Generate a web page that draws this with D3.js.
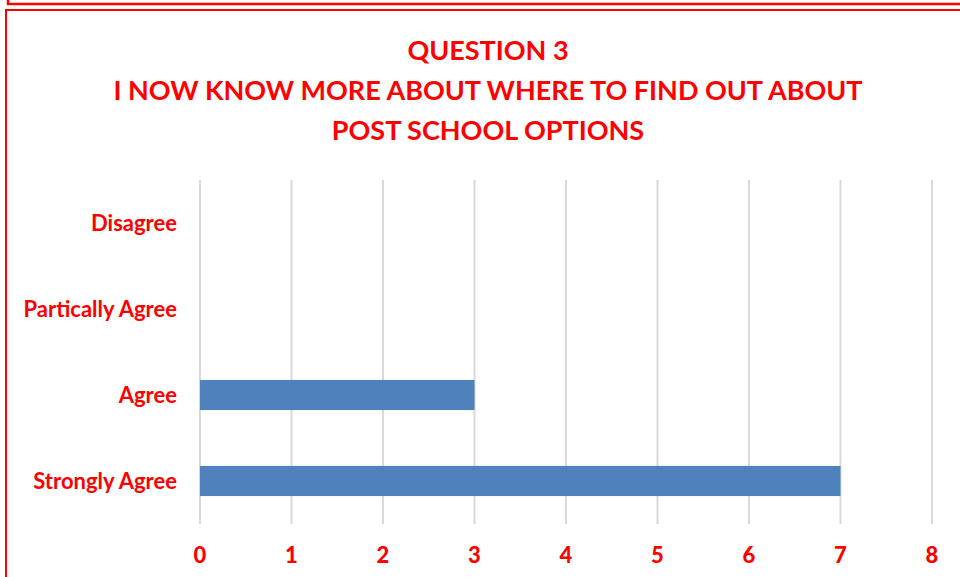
<html>
<head>
<meta charset="utf-8">
<script src="https://d3js.org/d3.v7.min.js"></script>
<style>
  body { margin: 0; background: #fff; }
  svg { display: block; }
  text { font-family: Lato, "Open Sans", sans-serif; font-weight: bold; fill: #ff0000; }
</style>
</head>
<body>
<svg id="chart" width="960" height="577"></svg>
<script>
// data
var categories = ["Disagree", "Partically Agree", "Agree", "Strongly Agree"];
var values = [0, 0, 3, 7];
var ticks = [0, 1, 2, 3, 4, 5, 6, 7, 8];
var titleLines = ["QUESTION 3", "I NOW KNOW MORE ABOUT WHERE TO FIND OUT ABOUT", "POST SCHOOL OPTIONS"];

var svg = d3.select("#chart");

// frames (piece of the slide above, and the chart box)
svg.append("rect")
  .attr("x", 8).attr("y", -20).attr("width", 1000).attr("height", 24)
  .attr("fill", "none").style("stroke", "#ff0000").style("stroke-width", 2.5);
svg.append("rect")
  .attr("x", 6).attr("y", 10).attr("width", 1000).attr("height", 600)
  .attr("fill", "none").style("stroke", "#ff0000").style("stroke-width", 2);

// title
svg.selectAll(".title").data(titleLines).enter().append("text")
  .attr("class", "title")
  .attr("x", 488)
  .attr("y", function(d, i) { return 60 + i * 40; })
  .style("text-anchor", "middle")
  .style("font-size", "27px")
  .text(function(d) { return d; });

var plotLeft = 200, plotRight = 932, plotTop = 180, plotBottom = 524;

var x = d3.scaleLinear().domain([0, 8]).range([plotLeft, plotRight]);
var y = d3.scaleBand().domain(categories).range([plotTop, plotBottom]).paddingInner(0.65).paddingOuter(0.325);

// vertical grid lines
svg.append("g").selectAll("line").data(ticks).enter().append("line")
  .attr("x1", function(d) { return x(d); })
  .attr("x2", function(d) { return x(d); })
  .attr("y1", plotTop)
  .attr("y2", plotBottom)
  .style("stroke", "#d9d9d9")
  .style("stroke-width", 2);

// bars
svg.append("g").selectAll("rect").data(values).enter().append("rect")
  .attr("x", x(0))
  .attr("y", function(d, i) { return y(categories[i]); })
  .attr("width", function(d) { return x(d) - x(0); })
  .attr("height", y.bandwidth())
  .attr("fill", "#4f81bd");

// x tick labels
svg.append("g").selectAll("text").data(ticks).enter().append("text")
  .attr("x", function(d) { return x(d); })
  .attr("y", 563)
  .style("text-anchor", "middle")
  .style("font-size", "22px")
  .style("font-weight", 900)
  .text(function(d) { return d; });

// category labels
svg.append("g").selectAll("text").data(categories).enter().append("text")
  .attr("x", 177)
  .attr("y", function(d) { return y(d) + y.bandwidth() / 2; })
  .attr("dy", "0.35em")
  .style("text-anchor", "end")
  .style("font-size", "22px")
  .text(function(d) { return d; });
</script>
</body>
</html>
